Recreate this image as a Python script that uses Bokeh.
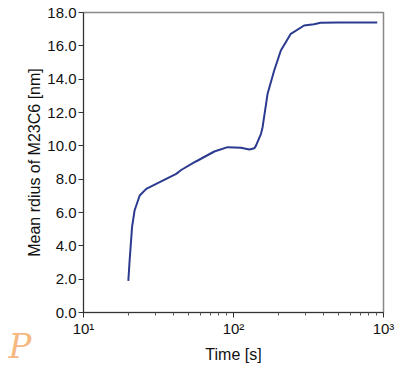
from bokeh.plotting import figure
from bokeh.models import (ColumnDataSource, FixedTicker, PrintfTickFormatter,
                          CustomJSTickFormatter, Range1d, Label)
from bokeh.embed import file_html
from bokeh.resources import INLINE

# Data
time_s = [19.9, 20.3, 21.07, 21.9, 23.7, 26.2, 32.2, 41.5, 44.8, 55.0, 57.8,
          74.5, 91.4, 112.2, 127.5, 137.5, 141, 152.5, 156.3, 168.7, 186.8,
          206.8, 241, 295.7, 344, 381, 500, 908]
radius_nm = [1.9, 3.12, 5.12, 6.12, 7.02, 7.42, 7.82, 8.32, 8.55, 9.02, 9.12,
             9.66, 9.92, 9.88, 9.78, 9.85, 10.0, 10.72, 11.12, 13.12, 14.52,
             15.72, 16.72, 17.22, 17.30, 17.38, 17.40, 17.40]
y_ticks = [0, 2, 4, 6, 8, 10, 12, 14, 16, 18]
x_ticks = [10, 100, 1000]
x_minor = [20, 30, 40, 50, 60, 70, 80, 90, 200, 300, 400, 500, 600, 700, 800, 900]

src = ColumnDataSource(dict(t=time_s, r=radius_nm))

p = figure(width=401, height=370, x_axis_type="log",
           x_range=Range1d(10, 1000), y_range=Range1d(0, 18),
           output_backend="svg", toolbar_location=None,
           min_border_left=82, min_border_right=18,
           min_border_top=12, min_border_bottom=58)

p.line("t", "r", source=src, line_color="#2b3a8f", line_width=2)

p.xgrid.visible = False
p.ygrid.visible = False
p.outline_line_color = "#888888"
p.outline_line_width = 1.5
p.background_fill_color = "white"
p.border_fill_color = "white"

font = "Liberation Sans"
for ax in (p.xaxis[0], p.yaxis[0]):
    ax.axis_line_color = "#333333"
    ax.major_tick_line_color = "#333333"
    ax.minor_tick_line_color = "#555555"
    ax.major_label_text_font = font
    ax.major_label_text_font_size = "15px"
    ax.major_label_text_color = "#111111"
    ax.axis_label_text_font = font
    ax.axis_label_text_font_size = "16px"
    ax.axis_label_text_font_style = "normal"
    ax.axis_label_text_color = "#111111"
    ax.major_tick_in = 0
    ax.major_tick_out = 5
    ax.minor_tick_in = 0
    ax.minor_tick_out = 3
    ax.major_label_standoff = 2

p.yaxis.ticker = FixedTicker(ticks=y_ticks)
p.yaxis.formatter = PrintfTickFormatter(format="%.1f")
p.yaxis.minor_tick_line_color = None
p.yaxis.axis_label = "Mean rdius of M23C6 [nm]"
p.yaxis.axis_label_standoff = 1

p.xaxis.ticker = FixedTicker(ticks=x_ticks, minor_ticks=x_minor)
p.xaxis.formatter = CustomJSTickFormatter(code="""
const sup = {'0':'\u2070','1':'\u00b9','2':'\u00b2','3':'\u00b3','4':'\u2074',
             '5':'\u2075','6':'\u2076','7':'\u2077','8':'\u2078','9':'\u2079','-':'\u207b'};
const e = Math.round(Math.log10(tick));
return '10' + String(e).split('').map(c => sup[c]).join('');
""")
p.xaxis.axis_label = "Time [s]"
p.xaxis.axis_label_standoff = 6

# watermark logo in the lower-left corner
logo = Label(x=0, y=0, x_units="screen", y_units="screen", text="P",
             x_offset=8, y_offset=-53,
             text_font="DejaVu Serif", text_font_style="italic",
             text_font_size="34px", text_color="#f5b070", text_alpha=0.9)
p.add_layout(logo, "left")

open("out.html", "w").write(file_html(p, INLINE))
